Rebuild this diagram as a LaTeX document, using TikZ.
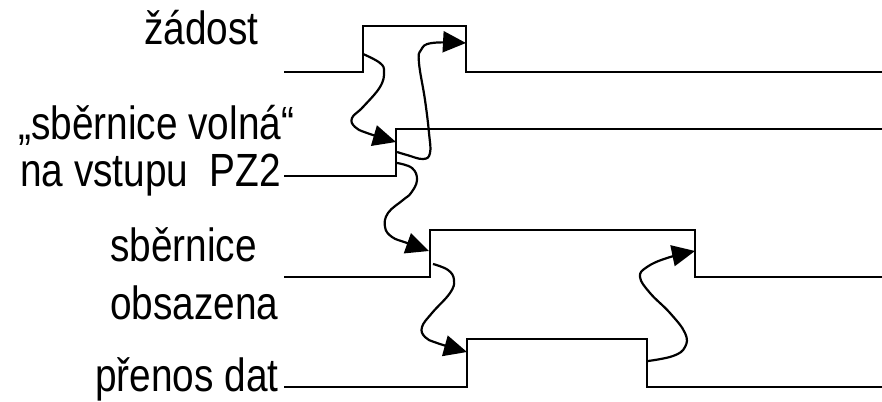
\documentclass[tikz,border=0pt]{standalone}
\usepackage{fontspec}
\setmainfont{Liberation Sans}
\usetikzlibrary{arrows.meta}
\newcommand{\tallt}[1]{\scalebox{1}[1.2]{#1}}
\begin{document}
\begin{tikzpicture}[x=1pt,y=-1pt,
  wave/.style={line width=2.5pt,line join=miter},
  arr/.style={line width=2.2pt,-{Triangle[length=23pt,width=21pt]}},
  lbl/.style={inner sep=0pt,font=\fontsize{38.8}{46}\selectfont}]
\useasboundingbox (0,0) rectangle (882,401);
% labels
\node[lbl,anchor=base west] (l1) at (144,45) {\tallt{žádost}};
\node[lbl,anchor=base west] (l2a) at (18,139) {\tallt{„sběrnice volná“}};
\node[lbl,anchor=base west] (l2b) at (20,186) {\tallt{na vstupu\ \ PZ2}};
\node[lbl,anchor=base west] (l3a) at (110,261) {\tallt{sběrnice}};
\node[lbl,anchor=base west] (l3b) at (110,319) {\tallt{obsazena}};
\node[lbl,anchor=base west] (l4) at (95,391) {\tallt{přenos dat}};
% waveforms
\draw[wave] (284,72) -- (363,72) -- (363,26) -- (466,26) -- (466,72) -- (882,72);
\draw[wave] (284,176) -- (396,176) -- (396,129) -- (882,129);
\draw[wave] (284,277) -- (430,277) -- (430,230) -- (695,230) -- (695,277) -- (882,277);
\draw[wave] (284,387) -- (467,387) -- (467,339) -- (647,339) -- (647,387) -- (882,387);
% arrow end points
\coordinate (a1s) at (363,54);   \coordinate (a1e) at (396,142);
\coordinate (a2s) at (397,152);  \coordinate (a2e) at (466,43);
\coordinate (a3s) at (397,163);  \coordinate (a3e) at (429,251);
\coordinate (a4s) at (433,264);  \coordinate (a4e) at (467,352);
\coordinate (a5s) at (648,361);  \coordinate (a5e) at (695,251);
% causal arrows
\draw[arr] plot[smooth,tension=0.7] coordinates {(a1s) (380,63) (384,72) (380,87) (363,107) (352,118) (355,127) (367,133) (a1e)};
\draw[arr] plot[smooth,tension=0.7] coordinates {(a2s) (407,155) (423,159) (430,153) (429,133) (425,100) (419,63) (421,50) (432,43) (a2e)};
\draw[arr] plot[smooth,tension=0.7] coordinates {(a3s) (412,168) (417,180) (411,193) (403,200) (388,213) (385,227) (392,237) (407,243) (a3e)};
\draw[arr] plot[smooth,tension=0.7] coordinates {(a4s) (448,270) (454,280) (450,293) (432,313) (422,327) (425,337) (437,343) (a4e)};
\draw[arr] plot[smooth,tension=0.7] coordinates {(a5s) (673,356) (685,347) (685,333) (670,313) (650,293) (640,277) (647,267) (667,258) (a5e)};
\end{tikzpicture}
\end{document}
